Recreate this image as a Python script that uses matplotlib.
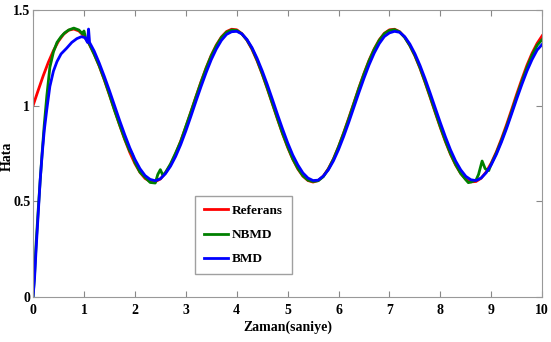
import numpy as np
import matplotlib.pyplot as plt

# Referans sinyali (0.1 s aralikla okunan degerler)
t_ref = np.round(np.arange(0, 10.01, 0.1), 1)
referans = [1.000, 1.079, 1.156, 1.226, 1.287, 1.337, 1.373, 1.394, 1.400, 1.390,
            1.364, 1.323, 1.270, 1.206, 1.134, 1.056, 0.977, 0.898, 0.823, 0.755,
            0.697, 0.651, 0.619, 0.603, 0.602, 0.616, 0.647, 0.691, 0.747, 0.814,
            0.888, 0.967, 1.047, 1.125, 1.198, 1.263, 1.317, 1.359, 1.387, 1.399,
            1.396, 1.376, 1.342, 1.294, 1.234, 1.165, 1.089, 1.010, 0.930, 0.853,
            0.782, 0.720, 0.669, 0.631, 0.608, 0.600, 0.608, 0.631, 0.670, 0.721,
            0.785, 0.857, 0.934, 1.013, 1.093, 1.168, 1.237, 1.296, 1.344, 1.378,
            1.396, 1.399, 1.386, 1.357, 1.314, 1.260, 1.195, 1.121, 1.043, 0.963,
            0.885, 0.811, 0.745, 0.689, 0.645, 0.615, 0.601, 0.603, 0.620, 0.653,
            0.700, 0.758, 0.826, 0.900, 0.979, 1.060, 1.137, 1.210, 1.273, 1.325,
            1.365]

# NBMD
t_nbmd = [0.0, 0.03, 0.06, 0.1, 0.14, 0.18, 0.22, 0.27, 0.33, 0.4, 0.47, 0.55,
          0.62, 0.7, 0.8, 0.9, 0.97, 1.0, 1.03, 1.1, 1.2, 1.3, 1.4, 1.5, 1.6,
          1.7, 1.8, 1.9, 1.95, 2.0, 2.1, 2.2, 2.3, 2.4, 2.45, 2.5, 2.55, 2.6,
          2.7, 2.8, 2.9, 3.0, 3.1, 3.2, 3.3, 3.4, 3.5, 3.6, 3.7, 3.8, 3.9, 4.0,
          4.1, 4.2, 4.3, 4.4, 4.5, 4.6, 4.7, 4.8, 4.9, 5.0, 5.1, 5.2, 5.3, 5.4,
          5.5, 5.6, 5.7, 5.8, 5.9, 6.0, 6.1, 6.2, 6.3, 6.4, 6.5, 6.6, 6.7, 6.8,
          6.9, 7.0, 7.1, 7.2, 7.3, 7.4, 7.5, 7.6, 7.7, 7.8, 7.9, 8.0, 8.1, 8.2,
          8.3, 8.4, 8.5, 8.55, 8.6, 8.7, 8.75, 8.82, 8.88, 8.95, 9.0, 9.1, 9.2,
          9.3, 9.4, 9.5, 9.6, 9.7, 9.8, 9.9, 10.0]
nbmd = [0.0, 0.12, 0.28, 0.45, 0.61, 0.76, 0.90, 1.05, 1.20, 1.28, 1.33, 1.36,
        1.38, 1.395, 1.405, 1.395, 1.375, 1.39, 1.355, 1.325, 1.268, 1.208, 1.136, 1.058, 0.975,
        0.900, 0.826, 0.762, 0.745, 0.703, 0.652, 0.625, 0.598, 0.595, 0.640, 0.665, 0.635, 0.650,
        0.695, 0.752, 0.812, 0.890, 0.966, 1.045, 1.122, 1.195, 1.260, 1.313, 1.356, 1.383, 1.395, 1.393,
        1.375, 1.343, 1.298, 1.238, 1.168, 1.092, 1.012, 0.933, 0.855, 0.786, 0.722, 0.672, 0.633, 0.610,
        0.603, 0.607, 0.628, 0.668, 0.720, 0.784, 0.855, 0.930, 1.010, 1.090, 1.165, 1.234, 1.293, 1.341,
        1.376, 1.393, 1.397, 1.385, 1.356, 1.314, 1.262, 1.198, 1.124, 1.047, 0.967, 0.889, 0.815, 0.748,
        0.692, 0.645, 0.612, 0.597, 0.600, 0.610, 0.640, 0.710, 0.670, 0.660, 0.695, 0.752, 0.818,
        0.890, 0.968, 1.048, 1.125, 1.198, 1.262, 1.315, 1.345]

# BMD
t_bmd = [0.0, 0.03, 0.06, 0.1, 0.14, 0.18, 0.22, 0.27, 0.33, 0.4, 0.47, 0.55,
         0.66, 0.76, 0.86, 0.95, 1.02, 1.07, 1.09, 1.11, 1.15, 1.2, 1.3, 1.4,
         1.5, 1.6, 1.7, 1.8, 1.9, 2.0, 2.1, 2.2, 2.3, 2.4, 2.5, 2.6, 2.7, 2.8,
         2.9, 3.0, 3.1, 3.2, 3.3, 3.4, 3.5, 3.6, 3.7, 3.8, 3.9, 4.0, 4.1, 4.2,
         4.3, 4.4, 4.5, 4.6, 4.7, 4.8, 4.9, 5.0, 5.1, 5.2, 5.3, 5.4, 5.5, 5.6,
         5.7, 5.8, 5.9, 6.0, 6.1, 6.2, 6.3, 6.4, 6.5, 6.6, 6.7, 6.8, 6.9, 7.0,
         7.1, 7.2, 7.3, 7.4, 7.5, 7.6, 7.7, 7.8, 7.9, 8.0, 8.1, 8.2, 8.3, 8.4,
         8.5, 8.6, 8.7, 8.8, 8.9, 9.0, 9.1, 9.2, 9.3, 9.4, 9.5, 9.6, 9.7, 9.8,
         9.9, 10.0]
bmd = [0.0, 0.10, 0.25, 0.43, 0.61, 0.75, 0.87, 0.98, 1.10, 1.18, 1.23, 1.27,
       1.30, 1.33, 1.35, 1.36, 1.355, 1.33, 1.40, 1.33, 1.31, 1.285, 1.222, 1.152,
       1.078, 1.000, 0.922, 0.848, 0.779, 0.719, 0.670, 0.634, 0.614, 0.607, 0.617, 0.644, 0.683, 0.734,
       0.796, 0.867, 0.944, 1.023, 1.100, 1.173, 1.240, 1.296, 1.341, 1.372, 1.386, 1.388, 1.375, 1.346,
       1.303, 1.247, 1.182, 1.110, 1.033, 0.954, 0.878, 0.806, 0.742, 0.690, 0.648, 0.621, 0.608, 0.610,
       0.631, 0.664, 0.711, 0.770, 0.838, 0.912, 0.990, 1.068, 1.143, 1.213, 1.274, 1.324, 1.361, 1.380,
       1.388, 1.383, 1.360, 1.322, 1.271, 1.210, 1.140, 1.065, 0.987, 0.910, 0.836, 0.768, 0.710, 0.664,
       0.630, 0.612, 0.608, 0.621, 0.649, 0.691, 0.745, 0.809, 0.880, 0.957, 1.035, 1.110, 1.180, 1.240,
       1.290, 1.320]

plt.rcParams['font.family'] = 'Liberation Serif'
plt.rcParams['font.weight'] = 'bold'

fig = plt.figure(figsize=(5.51, 3.42), dpi=100)
ax = fig.add_axes([0.060, 0.132, 0.924, 0.839])

ax.plot(t_ref, referans, color='#ff0000', lw=2.0, label='Referans')
ax.plot(t_nbmd, nbmd, color='#008000', lw=2.0, label='NBMD')
ax.plot(t_bmd, bmd, color='#0000ff', lw=2.0, label='BMD')

ax.set_xlim(0, 10)
ax.set_ylim(0, 1.5)
ax.set_xticks(range(0, 11))
ax.set_yticks([0, 0.5, 1, 1.5])
ax.set_yticklabels(['0', '0.5', '1', '1.5'])
ax.tick_params(direction='in', length=4, top=True, right=True, color='#888888',
               labelsize=10, pad=2)
ax.tick_params(axis='x', pad=5)
for lbl in ax.get_xticklabels() + ax.get_yticklabels():
    lbl.set_fontweight('bold')
for s in ax.spines.values():
    s.set_color('#999999')

ax.set_xlabel('Zaman(saniye)', fontsize=10, fontweight='bold', labelpad=3)
ax.set_ylabel('Hata', fontsize=10, fontweight='bold')
ax.yaxis.set_label_coords(-0.037, 0.49)

leg = ax.legend(loc='lower left', bbox_to_anchor=(0.305, 0.055), fancybox=False,
                edgecolor='#888888', handlelength=1.8, handletextpad=0.3,
                labelspacing=0.9, borderpad=0.7, prop={'weight': 'bold', 'size': 9.5})
leg.get_frame().set_linewidth(1.0)

plt.savefig('out.png', dpi=100)
